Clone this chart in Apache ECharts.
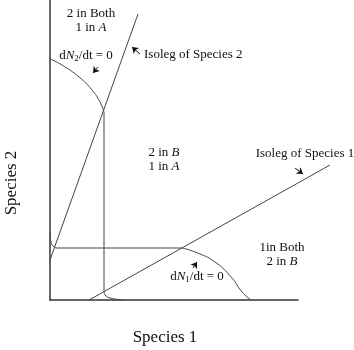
<!DOCTYPE html>
<html lang="en">
<head>
    <meta charset="UTF-8">
    <script src="https://cdn.jsdelivr.net/npm/echarts@6/dist/echarts.min.js"></script>
    <style>
        html, body { margin: 0; padding: 0; background: #fff; }
        #chart { width: 354px; height: 350px; }
    </style>
</head>
<body>
    <div id="chart"></div>
    <script>
        // x = species 1, y = species 2 (arbitrary units)
        var isoleg1 = [[39, 0], [280, 135]];
        var isoleg2 = [[0, 40], [88, 286]];

        // dN2/dt = 0 isocline
        var n2Top = [[0, 241], [12, 235], [29, 223], [42, 210], [50, 198], [54, 188]];
        var n2Stem = [[54, 188], [54, 8]];
        var n2Foot = [[54, 8], [56, 4], [60, 2], [72, 0]];

        // dN1/dt = 0 isocline
        var n1Foot = [[0, 68], [1, 58], [3, 54], [6, 52]];
        var n1Flat = [[6, 52], [132, 52]];
        var n1Arc = [[132, 52], [145, 48], [165, 38], [182, 22], [192, 8], [201, 0]];

        // annotation arrows [tail, head]
        var arrows = [
            [[48, 233], [43, 227]],
            [[90, 246], [82, 253]],
            [[245, 132], [253, 126]],
            [[143, 32], [147, 38]]
        ];

        var serif = '"Liberation Serif", "DejaVu Serif", serif';
        var lineCol = '#444';

        // everything is drawn on grid 1, which runs past the visible x axis
        // so the species 1 isoleg can stick out to the right like in the figure
        function curve(d, smooth) {
            return {
                type: 'line', data: d, smooth: smooth, symbol: 'none',
                xAxisIndex: 1, yAxisIndex: 1,
                lineStyle: { color: lineCol, width: 1 }, silent: true
            };
        }

        function txt(x, y, t, align) {
            return {
                type: 'text', x: x, y: y,
                style: {
                    text: t, font: '13px ' + serif, fill: '#111',
                    align: align || 'center', verticalAlign: 'middle',
                    rich: {
                        i: { fontFamily: serif, fontSize: 13, fontStyle: 'italic', fill: '#111' },
                        s: { fontFamily: serif, fontSize: 9, fill: '#111', verticalAlign: 'bottom', padding: [6, 0, 0, 0] }
                    }
                }
            };
        }

        var hidden = {
            axisLine: { show: false }, axisTick: { show: false },
            axisLabel: { show: false }, splitLine: { show: false }
        };

        var chart = echarts.init(document.getElementById('chart'));
        chart.setOption({
            animation: false,
            grid: [
                { left: 50, top: 0, width: 248, height: 300 },
                { left: 50, top: 0, width: 280, height: 300 }
            ],
            xAxis: [
                Object.assign({ type: 'value', min: 0, max: 248, gridIndex: 0 }, hidden,
                    { axisLine: { show: true, lineStyle: { color: '#333', width: 1.5 } } }),
                Object.assign({ type: 'value', min: 0, max: 280, gridIndex: 1 }, hidden)
            ],
            yAxis: [
                Object.assign({ type: 'value', min: 0, max: 300, gridIndex: 0 }, hidden,
                    { axisLine: { show: true, lineStyle: { color: '#333', width: 1.5 } } }),
                Object.assign({ type: 'value', min: 0, max: 300, gridIndex: 1 }, hidden)
            ],
            series: [
                curve(isoleg1, false),
                curve(isoleg2, false),
                curve(n2Top, true),
                curve(n2Stem, false),
                curve(n2Foot, true),
                curve(n1Foot, true),
                curve(n1Flat, false),
                curve(n1Arc, true),
                {
                    type: 'lines', coordinateSystem: 'cartesian2d', silent: true,
                    xAxisIndex: 1, yAxisIndex: 1,
                    symbol: ['none', 'arrow'], symbolSize: 6,
                    lineStyle: { color: '#111', width: 1, opacity: 1 },
                    data: arrows.map(function (a) { return { coords: a }; })
                }
            ],
            graphic: [
                txt(91, 14, '2 in Both'),
                txt(91, 28, '1 in {i|A}'),
                txt(86, 56, 'd{i|N}{s|2}/dt = 0'),
                txt(144, 55, 'Isoleg of Species 2', 'left'),
                txt(164, 153, '2 in {i|B}'),
                txt(164, 167, '1 in {i|A}'),
                txt(305, 154, 'Isoleg of Species 1'),
                txt(282, 248, '1in Both'),
                txt(282, 262, '2 in {i|B}'),
                txt(197, 277, 'd{i|N}{s|1}/dt = 0'),
                {
                    type: 'text', x: 165, y: 338,
                    style: { text: 'Species 1', font: '17px ' + serif, fill: '#111', align: 'center', verticalAlign: 'middle' }
                },
                {
                    type: 'text', x: 12, y: 183, rotation: Math.PI / 2,
                    style: { text: 'Species 2', font: '17px ' + serif, fill: '#111', align: 'center', verticalAlign: 'middle' }
                }
            ]
        });
    </script>
</body>
</html>
